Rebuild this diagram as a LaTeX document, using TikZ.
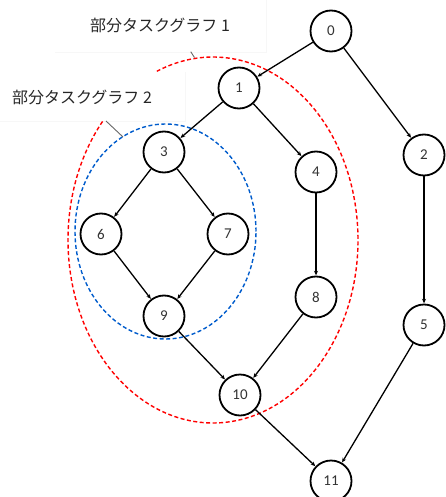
\documentclass[tikz,border=0pt]{standalone}
\usepackage{fontspec}
\setmainfont{Carlito}
\newfontfamily\jpfont{Noto Sans CJK JP}
\usetikzlibrary{arrows.meta}
\tikzset{
  task/.style={circle, draw, line width=1.8pt, minimum size=41pt, inner sep=0pt, fill=white, text=black!80, font=\fontsize{15}{17}\selectfont},
  edge/.style={line width=1.3pt, -{Stealth[length=4.5pt,width=4pt]}, shorten >=0.3pt},
  lbl/.style={font=\jpfont\fontsize{16}{18}\selectfont, inner sep=0pt, text=black!85},
  faint/.style={draw=black!3, line width=0.6pt},
  callout/.style={draw=black!60, line width=0.9pt},
  reddash/.style={draw=red, line width=1.4pt, dash pattern=on 4pt off 2.5pt},
  bluedash/.style={draw=blue!55!cyan!80!black, line width=1.4pt, dash pattern=on 4pt off 2.5pt}
}
\begin{document}
\begin{tikzpicture}[x=1pt,y=1pt]
\useasboundingbox (0,0) rectangle (446,-497);
% faint text boxes
\draw[faint] (55,-52) -- (266,-52) -- (266,0);
\draw[faint] (0,-121) -- (185,-121) -- (185,-72);
% subgraph outlines
\draw[bluedash] (165.5,-231.5) ellipse[x radius=90.5, y radius=107.5];
\draw[reddash] (213,-240) ++(139.6:145 and 183) arc[start angle=139.6, end angle=472.8, x radius=145, y radius=183];
% labels
\node[lbl] (L1) at (160,-25) {部分タスクグラフ 1};
\node[lbl] (L2) at (82,-97) {部分タスクグラフ 2};
\coordinate (c1a) at (190.7,-51.7);
\coordinate (c1b) at (194.5,-57.5);
\coordinate (c2a) at (106,-121);
\coordinate (c2b) at (123,-137);
\draw[callout] (c1a) -- (c1b);
\draw[callout] (c2a) -- (c2b);
% nodes
\node[task] (n0) at (331,-31) {0};
\node[task] (n1) at (239,-88) {1};
\node[task] (n2) at (424,-155) {2};
\node[task] (n3) at (164,-152) {3};
\node[task] (n4) at (316,-172) {4};
\node[task] (n6) at (101,-234) {6};
\node[task] (n7) at (228,-234) {7};
\node[task] (n8) at (316,-297) {8};
\node[task] (n9) at (164,-316) {9};
\node[task] (n5) at (424,-325) {5};
\node[task] (n10) at (240,-395) {10};
\node[task] (n11) at (331,-481) {11};
% edges
\draw[edge] (n0) -- (n1);
\draw[edge] (n0) -- (n2);
\draw[edge] (n1) -- (n3);
\draw[edge] (n1) -- (n4);
\draw[edge] (n3) -- (n6);
\draw[edge] (n3) -- (n7);
\draw[edge] (n6) -- (n9);
\draw[edge] (n7) -- (n9);
\draw[edge] (n4) -- (n8);
\draw[edge] (n8) -- (n10);
\draw[edge] (n9) -- (n10);
\draw[edge] (n2) -- (n5);
\draw[edge] (n5) -- (n11);
\draw[edge] (n10) -- (n11);
\end{tikzpicture}
\end{document}
